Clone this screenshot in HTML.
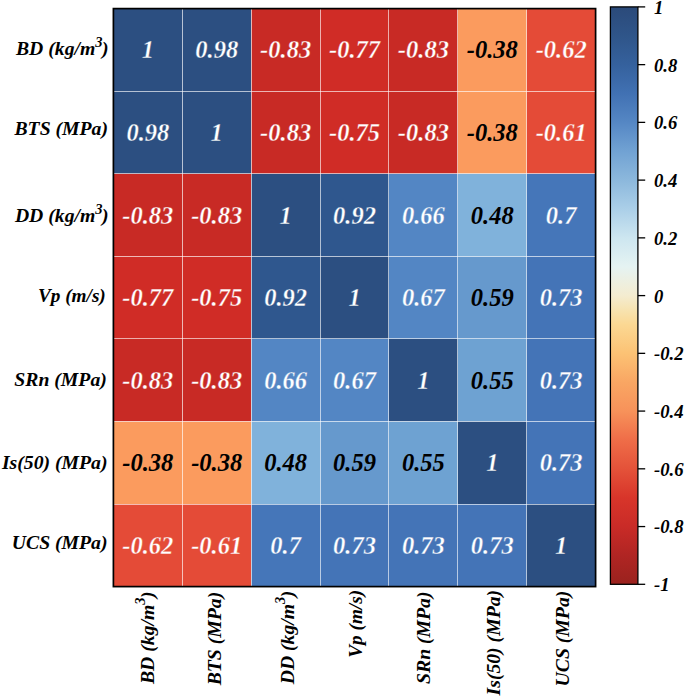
<!DOCTYPE html>
<html><head><meta charset="utf-8"><style>
html,body{margin:0;padding:0;background:#fff;}
svg{display:block;}
text{font-family:"Liberation Serif",serif;font-weight:bold;font-style:italic;}
</style></head><body>
<svg width="685" height="697" viewBox="0 0 685 697">
<defs><linearGradient id="cb" x1="0" y1="0" x2="0" y2="1"><stop offset="0.0000" stop-color="#2b4a7a"/><stop offset="0.0500" stop-color="#2f5589"/><stop offset="0.1000" stop-color="#35619d"/><stop offset="0.1500" stop-color="#4171b3"/><stop offset="0.2000" stop-color="#5587c4"/><stop offset="0.2500" stop-color="#71a2d3"/><stop offset="0.3000" stop-color="#8cb8dc"/><stop offset="0.3500" stop-color="#abcfe8"/><stop offset="0.4000" stop-color="#cde6f0"/><stop offset="0.4500" stop-color="#e5f3f2"/><stop offset="0.5000" stop-color="#f4ecd0"/><stop offset="0.5250" stop-color="#f7e3b0"/><stop offset="0.5500" stop-color="#fbd893"/><stop offset="0.6000" stop-color="#fcc274"/><stop offset="0.6500" stop-color="#f9a663"/><stop offset="0.7000" stop-color="#f7925a"/><stop offset="0.7500" stop-color="#ef6d48"/><stop offset="0.8000" stop-color="#e45239"/><stop offset="0.8500" stop-color="#d8352a"/><stop offset="0.9000" stop-color="#c92b27"/><stop offset="0.9500" stop-color="#b02523"/><stop offset="1.0000" stop-color="#9a221e"/></linearGradient></defs>
<rect x="113.40" y="8.60" width="69.19" height="82.87" fill="#2c4f81"/>
<rect x="182.29" y="8.60" width="69.19" height="82.87" fill="#2c4f81"/>
<rect x="251.17" y="8.60" width="69.19" height="82.87" fill="#c82a25"/>
<rect x="320.06" y="8.60" width="69.19" height="82.87" fill="#d02c26"/>
<rect x="388.94" y="8.60" width="69.19" height="82.87" fill="#c82a25"/>
<rect x="457.83" y="8.60" width="69.19" height="82.87" fill="#fb9b5e"/>
<rect x="526.71" y="8.60" width="69.19" height="82.87" fill="#e44b37"/>
<rect x="113.40" y="91.17" width="69.19" height="82.87" fill="#2c4f81"/>
<rect x="182.29" y="91.17" width="69.19" height="82.87" fill="#2c4f81"/>
<rect x="251.17" y="91.17" width="69.19" height="82.87" fill="#c82a25"/>
<rect x="320.06" y="91.17" width="69.19" height="82.87" fill="#d02c26"/>
<rect x="388.94" y="91.17" width="69.19" height="82.87" fill="#c82a25"/>
<rect x="457.83" y="91.17" width="69.19" height="82.87" fill="#fb9b5e"/>
<rect x="526.71" y="91.17" width="69.19" height="82.87" fill="#e44b37"/>
<rect x="113.40" y="173.74" width="69.19" height="82.87" fill="#c82a25"/>
<rect x="182.29" y="173.74" width="69.19" height="82.87" fill="#c82a25"/>
<rect x="251.17" y="173.74" width="69.19" height="82.87" fill="#2c4f81"/>
<rect x="320.06" y="173.74" width="69.19" height="82.87" fill="#2f578e"/>
<rect x="388.94" y="173.74" width="69.19" height="82.87" fill="#5386c4"/>
<rect x="457.83" y="173.74" width="69.19" height="82.87" fill="#80b2db"/>
<rect x="526.71" y="173.74" width="69.19" height="82.87" fill="#4576b9"/>
<rect x="113.40" y="256.31" width="69.19" height="82.87" fill="#d02c26"/>
<rect x="182.29" y="256.31" width="69.19" height="82.87" fill="#d02c26"/>
<rect x="251.17" y="256.31" width="69.19" height="82.87" fill="#2f578e"/>
<rect x="320.06" y="256.31" width="69.19" height="82.87" fill="#2c4f81"/>
<rect x="388.94" y="256.31" width="69.19" height="82.87" fill="#5386c4"/>
<rect x="457.83" y="256.31" width="69.19" height="82.87" fill="#6699cd"/>
<rect x="526.71" y="256.31" width="69.19" height="82.87" fill="#4474b7"/>
<rect x="113.40" y="338.89" width="69.19" height="82.87" fill="#c82a25"/>
<rect x="182.29" y="338.89" width="69.19" height="82.87" fill="#c82a25"/>
<rect x="251.17" y="338.89" width="69.19" height="82.87" fill="#5386c4"/>
<rect x="320.06" y="338.89" width="69.19" height="82.87" fill="#5386c4"/>
<rect x="388.94" y="338.89" width="69.19" height="82.87" fill="#2c4f81"/>
<rect x="457.83" y="338.89" width="69.19" height="82.87" fill="#6ea2d2"/>
<rect x="526.71" y="338.89" width="69.19" height="82.87" fill="#4474b7"/>
<rect x="113.40" y="421.46" width="69.19" height="82.87" fill="#fb9b5e"/>
<rect x="182.29" y="421.46" width="69.19" height="82.87" fill="#fb9b5e"/>
<rect x="251.17" y="421.46" width="69.19" height="82.87" fill="#80b2db"/>
<rect x="320.06" y="421.46" width="69.19" height="82.87" fill="#6699cd"/>
<rect x="388.94" y="421.46" width="69.19" height="82.87" fill="#6ea2d2"/>
<rect x="457.83" y="421.46" width="69.19" height="82.87" fill="#2c4f81"/>
<rect x="526.71" y="421.46" width="69.19" height="82.87" fill="#4474b7"/>
<rect x="113.40" y="504.03" width="69.19" height="82.87" fill="#e44b37"/>
<rect x="182.29" y="504.03" width="69.19" height="82.87" fill="#e44b37"/>
<rect x="251.17" y="504.03" width="69.19" height="82.87" fill="#4576b9"/>
<rect x="320.06" y="504.03" width="69.19" height="82.87" fill="#4474b7"/>
<rect x="388.94" y="504.03" width="69.19" height="82.87" fill="#4474b7"/>
<rect x="457.83" y="504.03" width="69.19" height="82.87" fill="#4474b7"/>
<rect x="526.71" y="504.03" width="69.19" height="82.87" fill="#2c4f81"/>
<line x1="182.50" y1="8.6" x2="182.50" y2="586.6" stroke="#ffffff" stroke-opacity="0.62" stroke-width="1.0"/>
<line x1="251.50" y1="8.6" x2="251.50" y2="586.6" stroke="#ffffff" stroke-opacity="0.62" stroke-width="1.0"/>
<line x1="320.50" y1="8.6" x2="320.50" y2="586.6" stroke="#ffffff" stroke-opacity="0.62" stroke-width="1.0"/>
<line x1="388.50" y1="8.6" x2="388.50" y2="586.6" stroke="#ffffff" stroke-opacity="0.62" stroke-width="1.0"/>
<line x1="457.50" y1="8.6" x2="457.50" y2="586.6" stroke="#ffffff" stroke-opacity="0.62" stroke-width="1.0"/>
<line x1="526.50" y1="8.6" x2="526.50" y2="586.6" stroke="#ffffff" stroke-opacity="0.62" stroke-width="1.0"/>
<line x1="113.4" y1="91.50" x2="595.6" y2="91.50" stroke="#ffffff" stroke-opacity="0.62" stroke-width="1.0"/>
<line x1="113.4" y1="173.50" x2="595.6" y2="173.50" stroke="#ffffff" stroke-opacity="0.62" stroke-width="1.0"/>
<line x1="113.4" y1="256.50" x2="595.6" y2="256.50" stroke="#ffffff" stroke-opacity="0.62" stroke-width="1.0"/>
<line x1="113.4" y1="338.50" x2="595.6" y2="338.50" stroke="#ffffff" stroke-opacity="0.62" stroke-width="1.0"/>
<line x1="113.4" y1="421.50" x2="595.6" y2="421.50" stroke="#ffffff" stroke-opacity="0.62" stroke-width="1.0"/>
<line x1="113.4" y1="504.50" x2="595.6" y2="504.50" stroke="#ffffff" stroke-opacity="0.62" stroke-width="1.0"/>
<rect x="113.4" y="8.6" width="482.20" height="578.00" fill="none" stroke="#000" stroke-width="1.7"/>
<text transform="translate(147.84,58.39) scale(1,1.0)" text-anchor="middle" font-size="24.5" fill="#fff" stroke="#2c4f81" stroke-width="0.3">1</text>
<text transform="translate(216.73,58.39) scale(1,1.0)" text-anchor="middle" font-size="24.5" fill="#fff" stroke="#2c4f81" stroke-width="0.3">0.98</text>
<text transform="translate(285.61,58.39) scale(1,1.0)" text-anchor="middle" font-size="24.5" fill="#fff" stroke="#c82a25" stroke-width="0.3">-0.83</text>
<text transform="translate(354.50,58.39) scale(1,1.0)" text-anchor="middle" font-size="24.5" fill="#fff" stroke="#d02c26" stroke-width="0.3">-0.77</text>
<text transform="translate(423.39,58.39) scale(1,1.0)" text-anchor="middle" font-size="24.5" fill="#fff" stroke="#c82a25" stroke-width="0.3">-0.83</text>
<text transform="translate(492.27,58.39) scale(1,1.0)" text-anchor="middle" font-size="24.5" fill="#000">-0.38</text>
<text transform="translate(561.16,58.39) scale(1,1.0)" text-anchor="middle" font-size="24.5" fill="#fff" stroke="#e44b37" stroke-width="0.3">-0.62</text>
<text transform="translate(147.84,140.96) scale(1,1.0)" text-anchor="middle" font-size="24.5" fill="#fff" stroke="#2c4f81" stroke-width="0.3">0.98</text>
<text transform="translate(216.73,140.96) scale(1,1.0)" text-anchor="middle" font-size="24.5" fill="#fff" stroke="#2c4f81" stroke-width="0.3">1</text>
<text transform="translate(285.61,140.96) scale(1,1.0)" text-anchor="middle" font-size="24.5" fill="#fff" stroke="#c82a25" stroke-width="0.3">-0.83</text>
<text transform="translate(354.50,140.96) scale(1,1.0)" text-anchor="middle" font-size="24.5" fill="#fff" stroke="#d02c26" stroke-width="0.3">-0.75</text>
<text transform="translate(423.39,140.96) scale(1,1.0)" text-anchor="middle" font-size="24.5" fill="#fff" stroke="#c82a25" stroke-width="0.3">-0.83</text>
<text transform="translate(492.27,140.96) scale(1,1.0)" text-anchor="middle" font-size="24.5" fill="#000">-0.38</text>
<text transform="translate(561.16,140.96) scale(1,1.0)" text-anchor="middle" font-size="24.5" fill="#fff" stroke="#e44b37" stroke-width="0.3">-0.61</text>
<text transform="translate(147.84,223.53) scale(1,1.0)" text-anchor="middle" font-size="24.5" fill="#fff" stroke="#c82a25" stroke-width="0.3">-0.83</text>
<text transform="translate(216.73,223.53) scale(1,1.0)" text-anchor="middle" font-size="24.5" fill="#fff" stroke="#c82a25" stroke-width="0.3">-0.83</text>
<text transform="translate(285.61,223.53) scale(1,1.0)" text-anchor="middle" font-size="24.5" fill="#fff" stroke="#2c4f81" stroke-width="0.3">1</text>
<text transform="translate(354.50,223.53) scale(1,1.0)" text-anchor="middle" font-size="24.5" fill="#fff" stroke="#2f578e" stroke-width="0.3">0.92</text>
<text transform="translate(423.39,223.53) scale(1,1.0)" text-anchor="middle" font-size="24.5" fill="#fff" stroke="#5386c4" stroke-width="0.3">0.66</text>
<text transform="translate(492.27,223.53) scale(1,1.0)" text-anchor="middle" font-size="24.5" fill="#000">0.48</text>
<text transform="translate(561.16,223.53) scale(1,1.0)" text-anchor="middle" font-size="24.5" fill="#fff" stroke="#4576b9" stroke-width="0.3">0.7</text>
<text transform="translate(147.84,306.10) scale(1,1.0)" text-anchor="middle" font-size="24.5" fill="#fff" stroke="#d02c26" stroke-width="0.3">-0.77</text>
<text transform="translate(216.73,306.10) scale(1,1.0)" text-anchor="middle" font-size="24.5" fill="#fff" stroke="#d02c26" stroke-width="0.3">-0.75</text>
<text transform="translate(285.61,306.10) scale(1,1.0)" text-anchor="middle" font-size="24.5" fill="#fff" stroke="#2f578e" stroke-width="0.3">0.92</text>
<text transform="translate(354.50,306.10) scale(1,1.0)" text-anchor="middle" font-size="24.5" fill="#fff" stroke="#2c4f81" stroke-width="0.3">1</text>
<text transform="translate(423.39,306.10) scale(1,1.0)" text-anchor="middle" font-size="24.5" fill="#fff" stroke="#5386c4" stroke-width="0.3">0.67</text>
<text transform="translate(492.27,306.10) scale(1,1.0)" text-anchor="middle" font-size="24.5" fill="#000">0.59</text>
<text transform="translate(561.16,306.10) scale(1,1.0)" text-anchor="middle" font-size="24.5" fill="#fff" stroke="#4474b7" stroke-width="0.3">0.73</text>
<text transform="translate(147.84,388.67) scale(1,1.0)" text-anchor="middle" font-size="24.5" fill="#fff" stroke="#c82a25" stroke-width="0.3">-0.83</text>
<text transform="translate(216.73,388.67) scale(1,1.0)" text-anchor="middle" font-size="24.5" fill="#fff" stroke="#c82a25" stroke-width="0.3">-0.83</text>
<text transform="translate(285.61,388.67) scale(1,1.0)" text-anchor="middle" font-size="24.5" fill="#fff" stroke="#5386c4" stroke-width="0.3">0.66</text>
<text transform="translate(354.50,388.67) scale(1,1.0)" text-anchor="middle" font-size="24.5" fill="#fff" stroke="#5386c4" stroke-width="0.3">0.67</text>
<text transform="translate(423.39,388.67) scale(1,1.0)" text-anchor="middle" font-size="24.5" fill="#fff" stroke="#2c4f81" stroke-width="0.3">1</text>
<text transform="translate(492.27,388.67) scale(1,1.0)" text-anchor="middle" font-size="24.5" fill="#000">0.55</text>
<text transform="translate(561.16,388.67) scale(1,1.0)" text-anchor="middle" font-size="24.5" fill="#fff" stroke="#4474b7" stroke-width="0.3">0.73</text>
<text transform="translate(147.84,471.24) scale(1,1.0)" text-anchor="middle" font-size="24.5" fill="#000">-0.38</text>
<text transform="translate(216.73,471.24) scale(1,1.0)" text-anchor="middle" font-size="24.5" fill="#000">-0.38</text>
<text transform="translate(285.61,471.24) scale(1,1.0)" text-anchor="middle" font-size="24.5" fill="#000">0.48</text>
<text transform="translate(354.50,471.24) scale(1,1.0)" text-anchor="middle" font-size="24.5" fill="#000">0.59</text>
<text transform="translate(423.39,471.24) scale(1,1.0)" text-anchor="middle" font-size="24.5" fill="#000">0.55</text>
<text transform="translate(492.27,471.24) scale(1,1.0)" text-anchor="middle" font-size="24.5" fill="#fff" stroke="#2c4f81" stroke-width="0.3">1</text>
<text transform="translate(561.16,471.24) scale(1,1.0)" text-anchor="middle" font-size="24.5" fill="#fff" stroke="#4474b7" stroke-width="0.3">0.73</text>
<text transform="translate(147.84,553.81) scale(1,1.0)" text-anchor="middle" font-size="24.5" fill="#fff" stroke="#e44b37" stroke-width="0.3">-0.62</text>
<text transform="translate(216.73,553.81) scale(1,1.0)" text-anchor="middle" font-size="24.5" fill="#fff" stroke="#e44b37" stroke-width="0.3">-0.61</text>
<text transform="translate(285.61,553.81) scale(1,1.0)" text-anchor="middle" font-size="24.5" fill="#fff" stroke="#4576b9" stroke-width="0.3">0.7</text>
<text transform="translate(354.50,553.81) scale(1,1.0)" text-anchor="middle" font-size="24.5" fill="#fff" stroke="#4474b7" stroke-width="0.3">0.73</text>
<text transform="translate(423.39,553.81) scale(1,1.0)" text-anchor="middle" font-size="24.5" fill="#fff" stroke="#4474b7" stroke-width="0.3">0.73</text>
<text transform="translate(492.27,553.81) scale(1,1.0)" text-anchor="middle" font-size="24.5" fill="#fff" stroke="#4474b7" stroke-width="0.3">0.73</text>
<text transform="translate(561.16,553.81) scale(1,1.0)" text-anchor="middle" font-size="24.5" fill="#fff" stroke="#2c4f81" stroke-width="0.3">1</text>
<text x="108.5" y="55.00000000000001" text-anchor="end" font-size="19.7" fill="#000">BD (kg/m<tspan dy="-8.4" font-size="14.5">3</tspan><tspan dy="8.4" dx="-0.6">)</tspan></text>
<text x="108.0" y="134.89999999999998" text-anchor="end" font-size="19.7" fill="#000">BTS (MPa)</text>
<text x="108.5" y="222.4" text-anchor="end" font-size="19.7" fill="#000">DD (kg/m<tspan dy="-8.4" font-size="14.5">3</tspan><tspan dy="8.4" dx="-0.6">)</tspan></text>
<text x="105.8" y="301.7" text-anchor="end" font-size="19.7" fill="#000" textLength="67.9" lengthAdjust="spacingAndGlyphs">Vp (m/s)</text>
<text x="106.8" y="385.7" text-anchor="end" font-size="19.7" fill="#000">SRn (MPa)</text>
<text x="107.5" y="469.09999999999997" text-anchor="end" font-size="19.7" fill="#000">Is(50) (MPa)</text>
<text x="107.5" y="548.6" text-anchor="end" font-size="19.7" fill="#000">UCS (MPa)</text>
<text transform="translate(153.5,591.5) rotate(-90)" text-anchor="end" font-size="19.7" fill="#000">BD (kg/m<tspan dy="-8.4" font-size="14.5">3</tspan><tspan dy="8.4" dx="-0.6">)</tspan></text>
<text transform="translate(220.6,591.8000000000001) rotate(-90)" text-anchor="end" font-size="19.7" fill="#000">BTS (MPa)</text>
<text transform="translate(293.5,590.7) rotate(-90)" text-anchor="end" font-size="19.7" fill="#000">DD (kg/m<tspan dy="-8.4" font-size="14.5">3</tspan><tspan dy="8.4" dx="-0.6">)</tspan></text>
<text transform="translate(362,589.9000000000001) rotate(-90)" text-anchor="end" font-size="19.7" fill="#000" textLength="67.9" lengthAdjust="spacingAndGlyphs">Vp (m/s)</text>
<text transform="translate(430.1,591.5) rotate(-90)" text-anchor="end" font-size="19.7" fill="#000">SRn (MPa)</text>
<text transform="translate(500.1,589.9000000000001) rotate(-90)" text-anchor="end" font-size="19.7" fill="#000">Is(50) (MPa)</text>
<text transform="translate(569.3,590.7) rotate(-90)" text-anchor="end" font-size="19.7" fill="#000">UCS (MPa)</text>
<rect x="610.4" y="6.9" width="27.5" height="577.4" fill="url(#cb)" stroke="#000" stroke-width="1.3"/>
<line x1="637.9" y1="6.90" x2="645.2" y2="6.90" stroke="#000" stroke-width="1.3"/>
<text transform="translate(654.0,13.80) scale(1,1.03)" font-size="18.67" fill="#000">1</text>
<line x1="637.9" y1="64.64" x2="645.2" y2="64.64" stroke="#000" stroke-width="1.3"/>
<text transform="translate(654.0,71.54) scale(1,1.03)" font-size="18.67" fill="#000">0.8</text>
<line x1="637.9" y1="122.38" x2="645.2" y2="122.38" stroke="#000" stroke-width="1.3"/>
<text transform="translate(654.0,129.28) scale(1,1.03)" font-size="18.67" fill="#000">0.6</text>
<line x1="637.9" y1="180.12" x2="645.2" y2="180.12" stroke="#000" stroke-width="1.3"/>
<text transform="translate(654.0,187.02) scale(1,1.03)" font-size="18.67" fill="#000">0.4</text>
<line x1="637.9" y1="237.86" x2="645.2" y2="237.86" stroke="#000" stroke-width="1.3"/>
<text transform="translate(654.0,244.76) scale(1,1.03)" font-size="18.67" fill="#000">0.2</text>
<line x1="637.9" y1="295.60" x2="645.2" y2="295.60" stroke="#000" stroke-width="1.3"/>
<text transform="translate(654.0,302.50) scale(1,1.03)" font-size="18.67" fill="#000">0</text>
<line x1="637.9" y1="353.34" x2="645.2" y2="353.34" stroke="#000" stroke-width="1.3"/>
<text transform="translate(654.0,360.24) scale(1,1.03)" font-size="18.67" fill="#000">-0.2</text>
<line x1="637.9" y1="411.08" x2="645.2" y2="411.08" stroke="#000" stroke-width="1.3"/>
<text transform="translate(654.0,417.98) scale(1,1.03)" font-size="18.67" fill="#000">-0.4</text>
<line x1="637.9" y1="468.82" x2="645.2" y2="468.82" stroke="#000" stroke-width="1.3"/>
<text transform="translate(654.0,475.72) scale(1,1.03)" font-size="18.67" fill="#000">-0.6</text>
<line x1="637.9" y1="526.56" x2="645.2" y2="526.56" stroke="#000" stroke-width="1.3"/>
<text transform="translate(654.0,533.46) scale(1,1.03)" font-size="18.67" fill="#000">-0.8</text>
<line x1="637.9" y1="584.30" x2="645.2" y2="584.30" stroke="#000" stroke-width="1.3"/>
<text transform="translate(654.0,591.20) scale(1,1.03)" font-size="18.67" fill="#000">-1</text>
</svg>
</body></html>
